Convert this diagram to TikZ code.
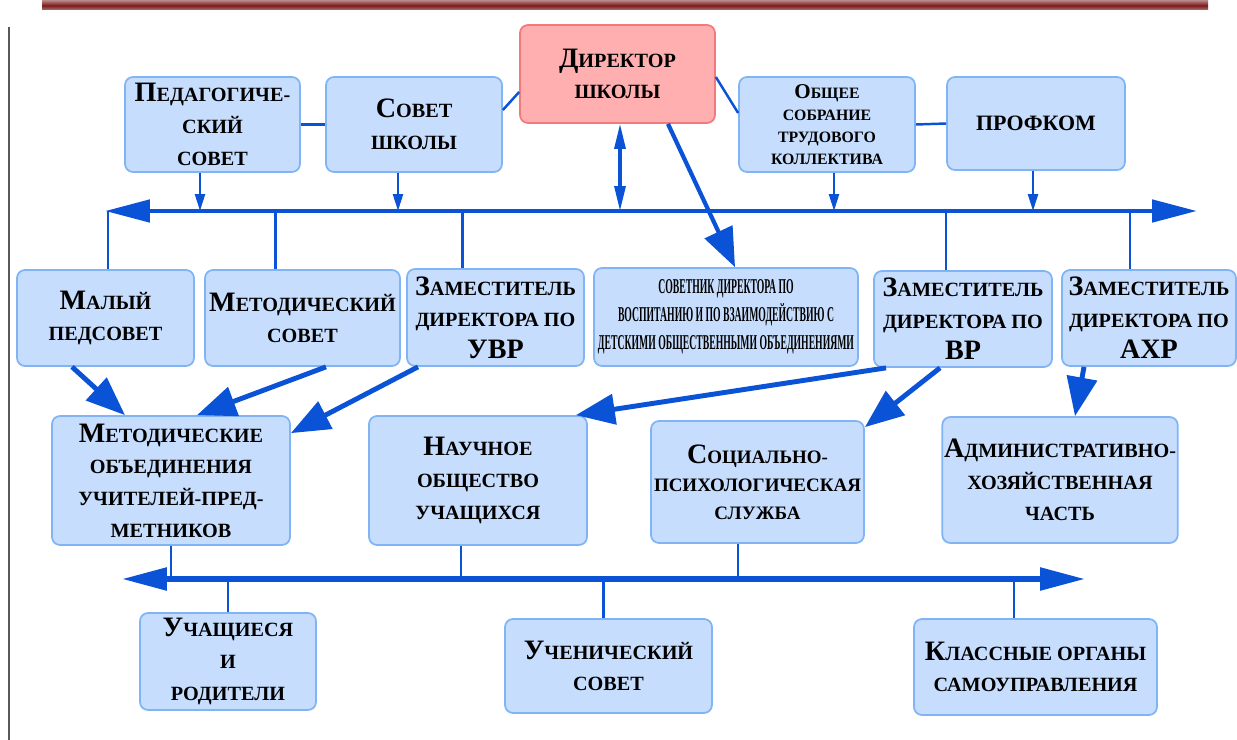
\documentclass[tikz,border=0pt]{standalone}
\usepackage{fontspec}
\setmainfont{Liberation Serif}
\newfontfamily\narrowfont{Liberation Serif}[FakeStretch=0.46]
\usetikzlibrary{arrows.meta}
\definecolor{boxfill}{HTML}{C6DDFD}
\definecolor{boxline}{HTML}{80B4F4}
\definecolor{dirfill}{HTML}{FFAFAF}
\definecolor{dirline}{HTML}{F27A7A}
\definecolor{linkblue}{HTML}{0A52D6}
\definecolor{topbar}{HTML}{7A1A1A}
\newcommand{\initcap}[1]{{\fontsize{16}{16}\selectfont #1}}
\begin{document}
\begin{tikzpicture}[x=0.02cm,y=-0.02cm,
    box/.style={draw=boxline, line width=1pt, fill=boxfill, rounded corners=0.16cm,
      align=center, inner sep=1pt, font=\fontsize{11.5}{18}\selectfont\bfseries},
    dirbox/.style={box, draw=dirline, fill=dirfill},
    link/.style={draw=linkblue, line width=1.4pt},
    tap/.style={link, -{Triangle[length=0.34cm,width=0.2cm]}},
    dbl/.style={draw=linkblue, line width=1.8pt,
      {Triangle[length=0.5cm,width=0.22cm]}-{Triangle[length=0.5cm,width=0.22cm]}},
    bigarrow/.style={draw=linkblue, line width=2.8pt, -{Triangle[length=0.78cm,width=0.6cm]}},
    bus/.style={draw=linkblue, line width=2.8pt,
      {Triangle[length=0.9cm,width=0.44cm]}-{Triangle[length=0.9cm,width=0.44cm]}}]
    \useasboundingbox (0,0) rectangle (1237,740);

    % Frame lines
    \shade[top color=topbar!60, bottom color=topbar!60, middle color=topbar] (42,1) rectangle (1208,10);
    \draw[gray!70!black, line width=0.8pt] (9,27) -- (9,740);

    % Top row
    \node[box, minimum width=3.5cm, minimum height=1.9cm] (ped) at (212.5,124.5)
      {\initcap{П}ЕДАГОГИЧЕ-\\СКИЙ\\СОВЕТ};
    \node[box, minimum width=3.52cm, minimum height=1.9cm] (sovet) at (414,124.5)
      {\initcap{С}ОВЕТ\\ШКОЛЫ};
    \node[dirbox, minimum width=3.9cm, minimum height=1.96cm] (dir) at (617.5,74)
      {\initcap{Д}ИРЕКТОР\\ШКОЛЫ};
    \node[box, minimum width=3.52cm, minimum height=1.9cm,
      font=\fontsize{9}{12.5}\selectfont\bfseries] (obsh) at (827,124.5)
      {{\fontsize{12}{12}\selectfont О}БЩЕЕ\\СОБРАНИЕ\\ТРУДОВОГО\\КОЛЛЕКТИВА};
    \node[box, minimum width=3.56cm, minimum height=1.86cm,
      font=\fontsize{12.5}{18}\selectfont\bfseries] (prof) at (1036,123.5) {ПРОФКОМ};

    % Second row
    \node[box, minimum width=3.54cm, minimum height=1.92cm] (maly) at (105.5,318)
      {\initcap{М}АЛЫЙ\\ПЕДСОВЕТ};
    \node[box, minimum width=3.9cm, minimum height=1.92cm] (metsov) at (302.5,318)
      {\initcap{М}ЕТОДИЧЕСКИЙ\\СОВЕТ};
    \node[box, minimum width=3.54cm, minimum height=1.94cm] (uvr) at (495.5,317.5)
      {\initcap{З}АМЕСТИТЕЛЬ\\ДИРЕКТОРА ПО\\\initcap{УВР}};
    \node[box, minimum width=5.28cm, minimum height=1.96cm,
      font=\narrowfont\fontsize{12}{16}\selectfont\bfseries] (sovetnik) at (726,317)
      {СОВЕТНИК ДИРЕКТОРА ПО\\ВОСПИТАНИЮ И ПО ВЗАИМОДЕЙСТВИЮ С\\ДЕТСКИМИ ОБЩЕСТВЕННЫМИ ОБЪЕДИНЕНИЯМИ};
    \node[box, minimum width=3.56cm, minimum height=1.92cm] (vr) at (963,319)
      {\initcap{З}АМЕСТИТЕЛЬ\\ДИРЕКТОРА ПО\\\initcap{ВР}};
    \node[box, minimum width=3.48cm, minimum height=1.92cm] (ahr) at (1149,318)
      {\initcap{З}АМЕСТИТЕЛЬ\\ДИРЕКТОРА ПО\\\initcap{АХР}};

    % Third row
    \node[box, minimum width=4.76cm, minimum height=2.58cm] (metob) at (171,480.5)
      {\initcap{М}ЕТОДИЧЕСКИЕ\\ОБЪЕДИНЕНИЯ\\УЧИТЕЛЕЙ-ПРЕД-\\МЕТНИКОВ};
    \node[box, minimum width=4.36cm, minimum height=2.58cm] (nauch) at (478,480.5)
      {\initcap{Н}АУЧНОЕ\\ОБЩЕСТВО\\УЧАЩИХСЯ};
    \node[box, minimum width=4.26cm, minimum height=2.44cm,
      font=\fontsize{10.8}{16}\selectfont\bfseries] (soc) at (757.5,482)
      {\initcap{С}ОЦИАЛЬНО-\\ПСИХОЛОГИЧЕСКАЯ\\СЛУЖБА};
    \node[box, minimum width=4.64cm, minimum height=2.52cm] (adm) at (1060,480)
      {\initcap{А}ДМИНИСТРАТИВНО-\\ХОЗЯЙСТВЕННАЯ\\ЧАСТЬ};

    % Bottom row
    \node[box, minimum width=3.52cm, minimum height=1.94cm] (uch) at (228,661.5)
      {\initcap{У}ЧАЩИЕСЯ\\И\\РОДИТЕЛИ};
    \node[box, minimum width=4.14cm, minimum height=1.88cm] (uchsov) at (608.5,666)
      {\initcap{У}ЧЕНИЧЕСКИЙ\\СОВЕТ};
    \node[box, minimum width=4.86cm, minimum height=1.92cm] (klass) at (1035.5,667)
      {\initcap{К}ЛАССНЫЕ ОРГАНЫ\\САМОУПРАВЛЕНИЯ};

    % Buses
    \coordinate (busL) at (105,211);
    \coordinate (busR) at (1197,211);
    \coordinate (lbL) at (122,579);
    \coordinate (lbR) at (1085,579);
    \draw[bus] (busL) -- (busR);
    \draw[bus, line width=3.2pt] (lbL) -- (lbR);

    % Links of the top row
    \draw[link] (ped.east) -- (sovet.west);
    \draw[link] ([yshift=0.29cm]sovet.east) -- ([yshift=-0.36cm]dir.west);
    \draw[link] ([yshift=-0.06cm]dir.east) -- ([yshift=0.23cm]obsh.west);
    \draw[link] (obsh.east) -- (prof.west);
    \draw[tap] ([xshift=-0.25cm]ped.south) -- ([xshift=-0.25cm]ped.south |- busL);
    \draw[tap] ([xshift=-0.32cm]sovet.south) -- ([xshift=-0.32cm]sovet.south |- busL);
    \draw[tap] ([xshift=0.14cm]obsh.south) -- ([xshift=0.14cm]obsh.south |- busL);
    \draw[tap] ([xshift=-0.06cm]prof.south) -- ([xshift=-0.06cm]prof.south |- busL);
    \draw[dbl] ([xshift=0.05cm]dir.south) -- ([xshift=0.05cm]dir.south |- busL);
    \draw[bigarrow, line width=2.4pt] ([xshift=1.01cm]dir.south) -- ([xshift=0.18cm]sovetnik.north);

    % Drops to the second row
    \coordinate (d1) at ([xshift=0.05cm]maly.north);
    \coordinate (d2) at ([xshift=-0.54cm]metsov.north);
    \coordinate (d3) at ([xshift=-0.66cm]uvr.north);
    \coordinate (d4) at ([xshift=-0.34cm]vr.north);
    \coordinate (d5) at ([xshift=-0.38cm]ahr.north);
    \foreach \d in {d1,d2,d3,d4,d5}
      \draw[link] (busL -| \d) -- (\d);

    % Arrows to the third row
    \draw[bigarrow] ([xshift=-0.67cm]maly.south) -- ([xshift=-0.92cm]metob.north);
    \draw[bigarrow] ([xshift=0.47cm]metsov.south) -- ([xshift=0.52cm]metob.north);
    \draw[bigarrow] ([xshift=-1.55cm]uvr.south) -- ([yshift=-0.36cm]metob.north east);
    \draw[bigarrow] ([xshift=-1.54cm]vr.south) -- ([xshift=-0.24cm]nauch.north east);
    \draw[bigarrow] ([xshift=-0.46cm]vr.south) -- ([yshift=-0.14cm]soc.north east);
    \draw[bigarrow] ([xshift=-1.3cm]ahr.south) -- ([xshift=0.3cm]adm.north);

    % Lower bus links
    \coordinate (r1) at (metob.south);
    \coordinate (r2) at ([xshift=-0.34cm]nauch.south);
    \coordinate (r3) at ([xshift=-0.39cm]soc.south);
    \foreach \r in {r1,r2,r3}
      \draw[link] (\r) -- (lbL -| \r);
    \coordinate (b1) at (uch.north);
    \coordinate (b2) at ([xshift=-0.1cm]uchsov.north);
    \coordinate (b3) at ([xshift=-0.43cm]klass.north);
    \foreach \b in {b1,b2,b3}
      \draw[link] (lbL -| \b) -- (\b);
\end{tikzpicture}
\end{document}
